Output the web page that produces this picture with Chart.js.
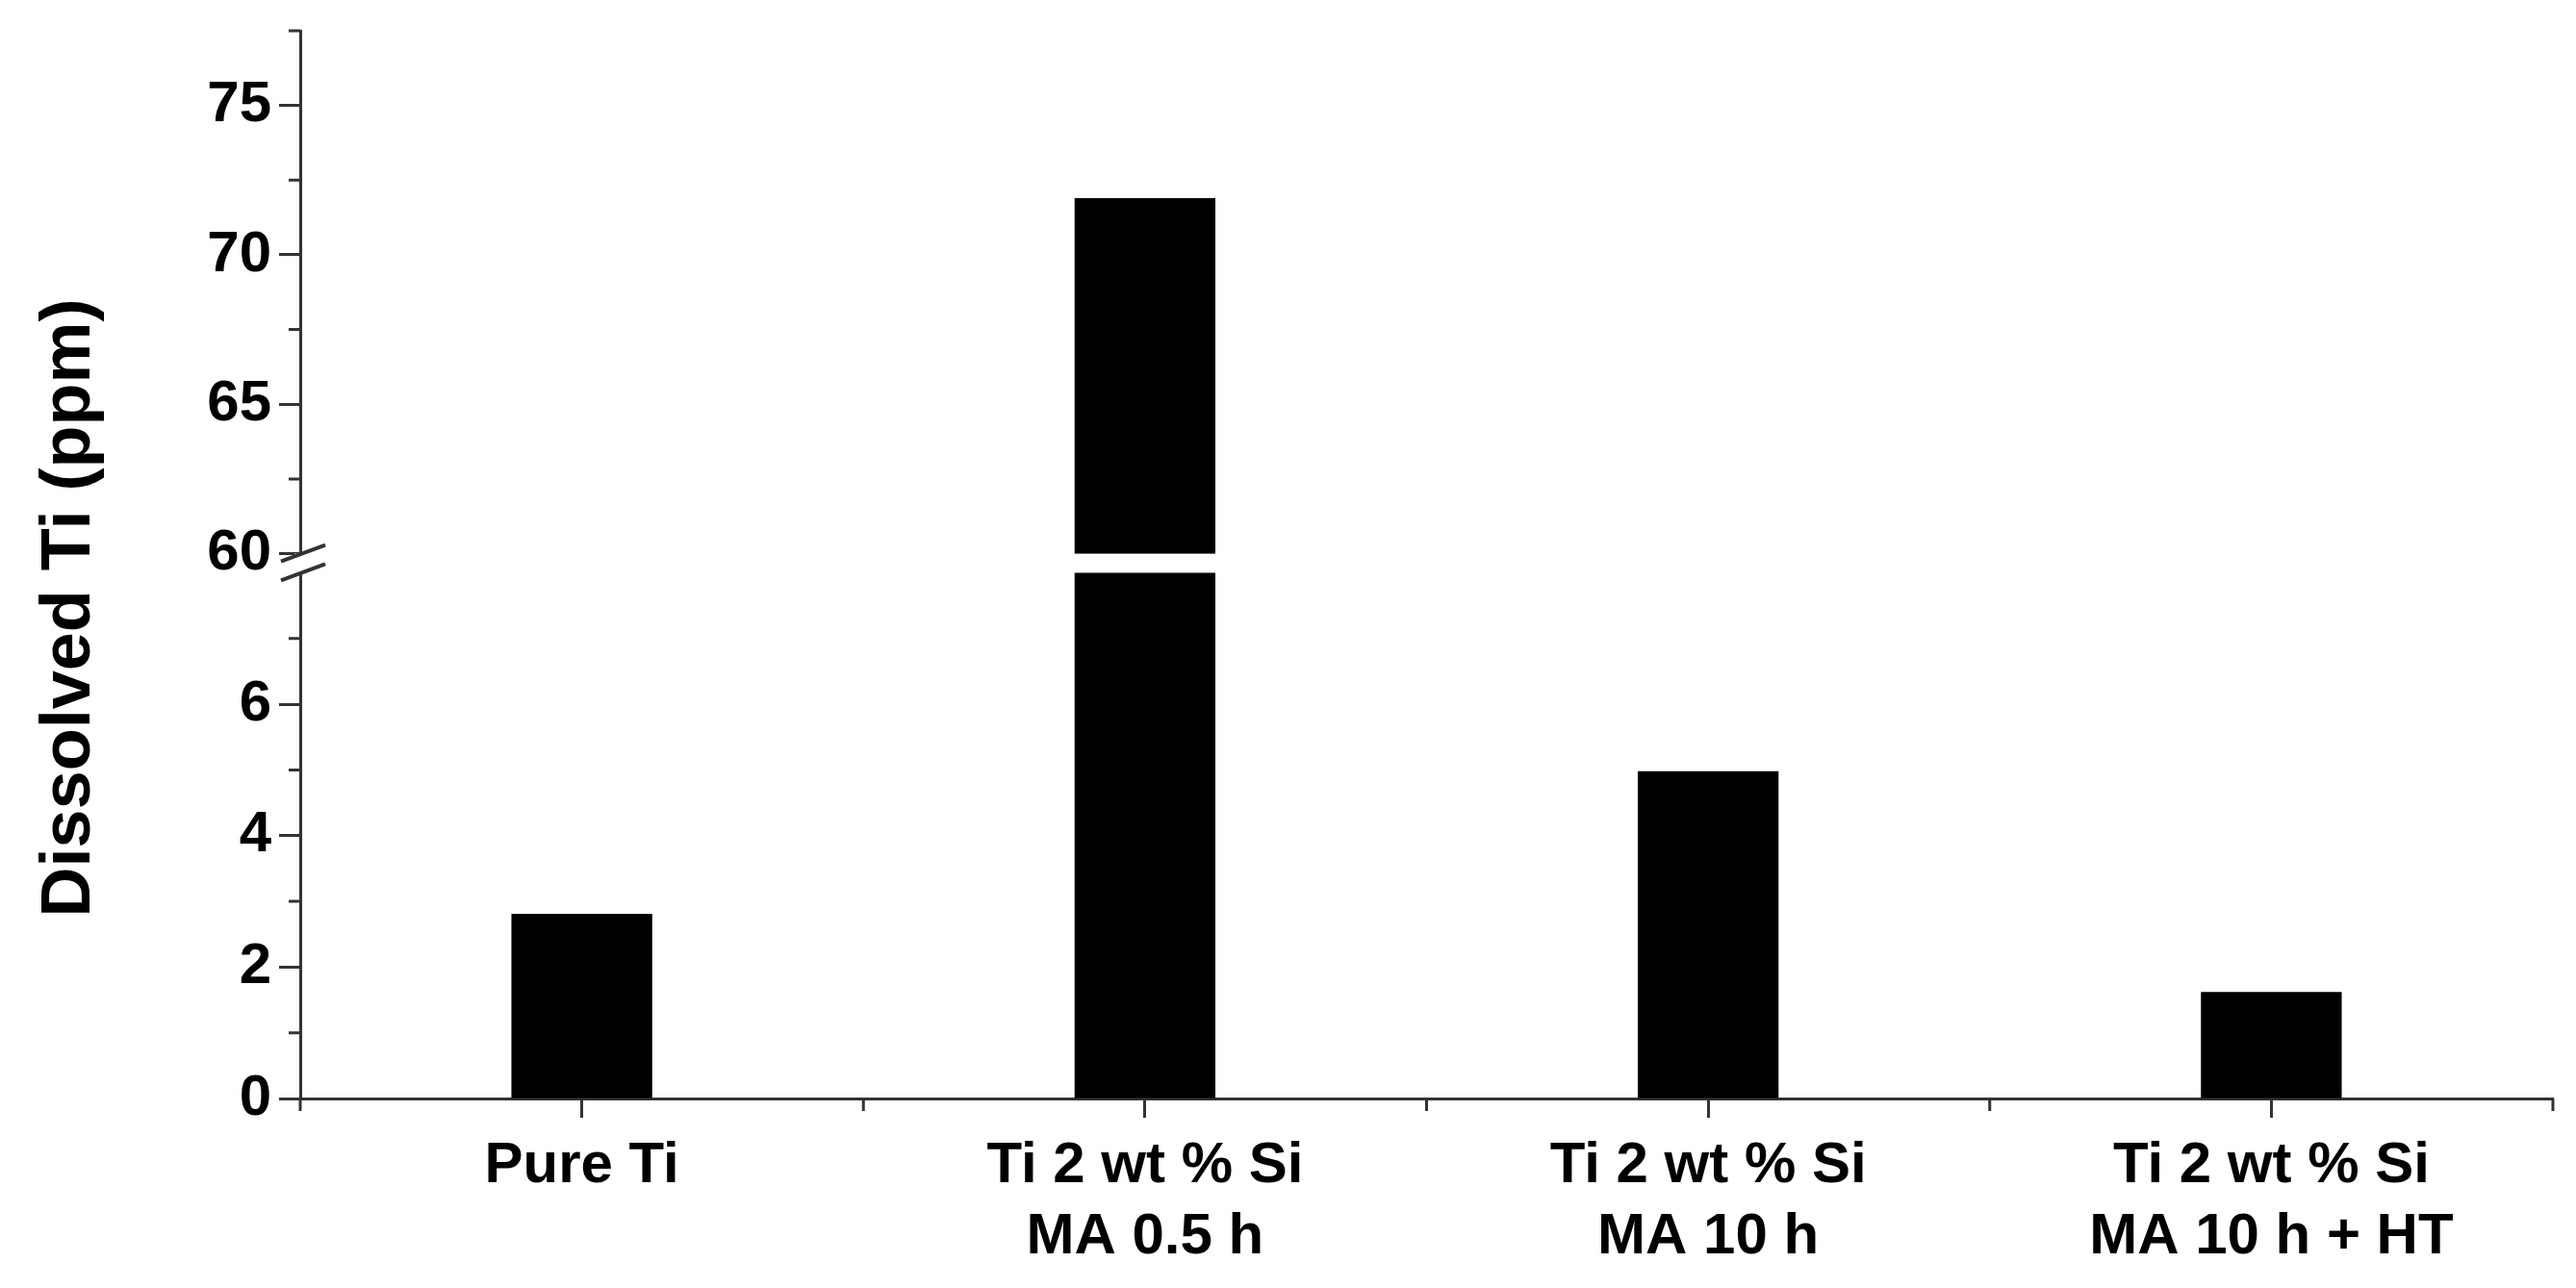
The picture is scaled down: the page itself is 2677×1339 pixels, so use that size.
<!DOCTYPE html>
<html>
<head>
<meta charset="utf-8">
<script src="https://cdn.jsdelivr.net/npm/chart.js@4.4.0/dist/chart.umd.min.js"></script>
<style>
  html, body { margin: 0; padding: 0; background: #fff; }
  #wrap { width: 2677px; height: 1339px; }
</style>
</head>
<body>
<div id="wrap"><canvas id="canvas"></canvas></div>
<script>
// data
const categories = [
    ['Pure Ti'],
    ['Ti 2 wt % Si', 'MA 0.5 h'],
    ['Ti 2 wt % Si', 'MA 10 h'],
    ['Ti 2 wt % Si', 'MA 10 h + HT']
];
const dissolvedTi = [2.81, 71.9, 4.98, 1.62];

const lowTicks = [0, 1, 2, 3, 4, 5, 6, 7];
const lowLabels = [0, 2, 4, 6];
const highTicks = [60, 62.5, 65, 67.5, 70, 72.5, 75, 77.5];
const highLabels = [60, 65, 70, 75];

const lowMax = 8;      // top of the lower part
const highMin = 60;    // bottom of the upper part
const highMax = 77.5;

// each part runs a bit into the break gap, the gap is painted white later
const lowTop = lowMax + 0.146;
const highBottom = highMin - 0.32;

const axisColor = '#333';
const fontFamily = "'Liberation Sans', Arial, sans-serif";

const lowData = dissolvedTi.map(v => Math.min(v, lowTop));
const highData = dissolvedTi.map(v => v > highMin ? v : null);

const breakAxis = {
    id: 'breakAxis',
    afterDatasetsDraw(chart) {
        const ctx = chart.ctx;
        const hi = chart.scales.yHigh, lo = chart.scales.yLow;
        const area = chart.chartArea;
        const yTop = hi.getPixelForValue(highMin);
        const yBot = lo.getPixelForValue(lowMax);
        ctx.save();
        ctx.fillStyle = '#fff';
        ctx.fillRect(area.left - 6, yTop, area.right - area.left + 6, yBot - yTop);
        ctx.restore();
    },
    afterDraw(chart) {
        const ctx = chart.ctx;
        const hi = chart.scales.yHigh, lo = chart.scales.yLow, xs = chart.scales.x;
        const area = chart.chartArea;
        const ax = area.left;
        ctx.save();
        ctx.strokeStyle = axisColor;
        ctx.lineWidth = 3;
        ctx.beginPath();
        // minor ticks on y
        highTicks.filter(v => !highLabels.includes(v)).forEach(v => {
            const y = hi.getPixelForValue(v);
            ctx.moveTo(ax - 12, y); ctx.lineTo(ax, y);
        });
        lowTicks.filter(v => !lowLabels.includes(v)).forEach(v => {
            const y = lo.getPixelForValue(v);
            ctx.moveTo(ax - 12, y); ctx.lineTo(ax, y);
        });
        // minor ticks on x, between the categories
        const step = xs.getPixelForValue(1) - xs.getPixelForValue(0);
        for (let i = 0; i <= categories.length; i++) {
            const x = xs.getPixelForValue(i) - step / 2;
            ctx.moveTo(x, area.bottom); ctx.lineTo(x, area.bottom + 13);
        }
        ctx.stroke();

        // break marks
        const yTop = hi.getPixelForValue(highMin);
        const yBot = lo.getPixelForValue(lowMax);
        ctx.lineWidth = 4;
        ctx.beginPath();
        [yTop, yBot].forEach(y => {
            ctx.moveTo(ax - 20, y + 8);
            ctx.lineTo(ax + 26, y - 9);
        });
        ctx.stroke();

        // y title
        ctx.fillStyle = '#000';
        ctx.font = 'bold 72px ' + fontFamily;
        ctx.textAlign = 'center';
        ctx.textBaseline = 'middle';
        ctx.translate(73, (area.top + area.bottom) / 2 + 45);
        ctx.rotate(-Math.PI / 2);
        ctx.fillText('Dissolved Ti (ppm)', 0, 0);
        ctx.restore();
    }
};

const tickFont = { family: fontFamily, size: 60, weight: 'bold', lineHeight: 0.8 };

const ctx = document.getElementById('canvas').getContext('2d');
const myChart = new Chart(ctx, {
    type: 'bar',
    data: {
        labels: categories,
        datasets: [{
            label: 'low',
            data: lowData,
            yAxisID: 'yLow',
            backgroundColor: '#000',
            grouped: false,
            barPercentage: 0.5,
            categoryPercentage: 0.5
        }, {
            label: 'high',
            data: highData,
            yAxisID: 'yHigh',
            backgroundColor: '#000',
            grouped: false,
            barPercentage: 0.5,
            categoryPercentage: 0.5
        }]
    },
    options: {
        responsive: true,
        maintainAspectRatio: false,
        animation: false,
        layout: { padding: { top: 26, right: 24, left: 0, bottom: 0 } },
        plugins: {
            legend: { display: false },
            tooltip: { enabled: false }
        },
        scales: {
            x: {
                type: 'category',
                offset: true,
                grid: { drawOnChartArea: false, offset: false, tickLength: 20, tickWidth: 3, tickColor: axisColor },
                border: { color: axisColor, width: 3 },
                ticks: {
                    color: '#000', padding: 14, maxRotation: 0, autoSkip: false,
                    font: { family: fontFamily, size: 60, weight: 'bold', lineHeight: 1.23 }
                },
                afterFit: s => { s.height = 197; }
            },
            yLow: {
                type: 'linear',
                position: 'left',
                stack: 'ybreak',
                stackWeight: 557,
                min: 0,
                max: lowTop,
                afterBuildTicks: s => { s.ticks = lowTicks.map(v => ({ value: v })); },
                grid: {
                    drawOnChartArea: false, tickLength: 22, tickWidth: 3,
                    tickColor: c => lowLabels.includes(c.tick.value) ? axisColor : 'rgba(0,0,0,0)'
                },
                border: { color: axisColor, width: 3 },
                ticks: {
                    color: '#000', padding: 8, autoSkip: false, font: tickFont,
                    callback: v => lowLabels.includes(v) ? String(v) : ''
                },
                afterFit: s => { s.width = 312; }
            },
            yHigh: {
                type: 'linear',
                position: 'left',
                stack: 'ybreak',
                stackWeight: 554,
                min: highBottom,
                max: highMax,
                afterBuildTicks: s => { s.ticks = highTicks.map(v => ({ value: v })); },
                grid: {
                    drawOnChartArea: false, tickLength: 22, tickWidth: 3,
                    tickColor: c => highLabels.includes(c.tick.value) ? axisColor : 'rgba(0,0,0,0)'
                },
                border: { color: axisColor, width: 3 },
                ticks: {
                    color: '#000', padding: 8, autoSkip: false, font: tickFont,
                    callback: v => highLabels.includes(v) ? String(v) : ''
                },
                afterFit: s => { s.width = 312; }
            }
        }
    },
    plugins: [breakAxis]
});
</script>
</body>
</html>
